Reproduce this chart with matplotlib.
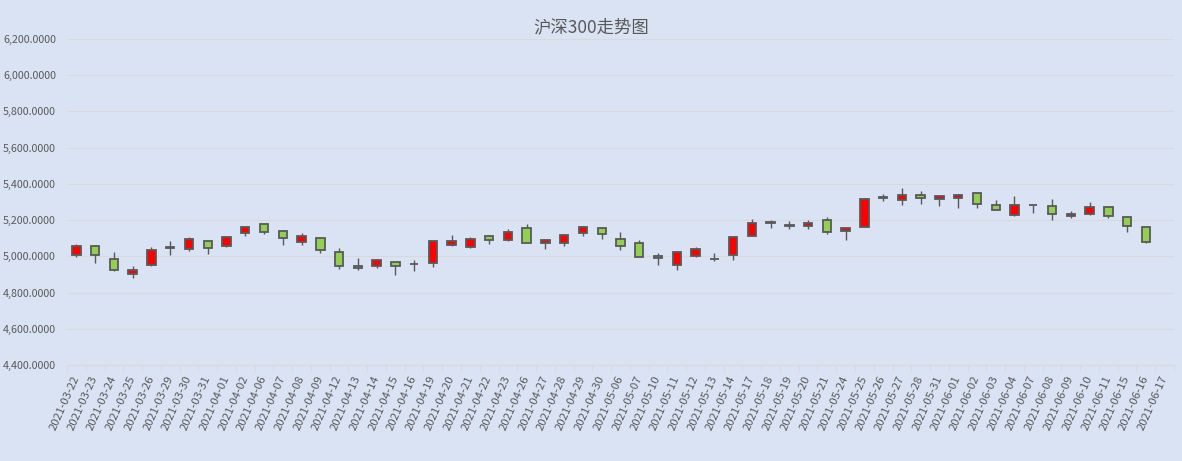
#!/usr/bin/env python3
"""CSI 300 daily candlestick chart, 2021-03-22 .. 2021-06-17."""

import matplotlib

matplotlib.use("Agg")
import matplotlib.pyplot as plt
import numpy as np
from matplotlib.ticker import FuncFormatter, MultipleLocator

plt.rcParams["font.family"] = ["Noto Sans CJK SC", "DejaVu Sans"]

TITLE = "沪深300走势图"

dates = [
    "2021-03-22", "2021-03-23", "2021-03-24", "2021-03-25", "2021-03-26",
    "2021-03-29", "2021-03-30", "2021-03-31", "2021-04-01", "2021-04-02",
    "2021-04-06", "2021-04-07", "2021-04-08", "2021-04-09", "2021-04-12",
    "2021-04-13", "2021-04-14", "2021-04-15", "2021-04-16", "2021-04-19",
    "2021-04-20", "2021-04-21", "2021-04-22", "2021-04-23", "2021-04-26",
    "2021-04-27", "2021-04-28", "2021-04-29", "2021-04-30", "2021-05-06",
    "2021-05-07", "2021-05-10", "2021-05-11", "2021-05-12", "2021-05-13",
    "2021-05-14", "2021-05-17", "2021-05-18", "2021-05-19", "2021-05-20",
    "2021-05-21", "2021-05-24", "2021-05-25", "2021-05-26", "2021-05-27",
    "2021-05-28", "2021-05-31", "2021-06-01", "2021-06-02", "2021-06-03",
    "2021-06-04", "2021-06-07", "2021-06-08", "2021-06-09", "2021-06-10",
    "2021-06-11", "2021-06-15", "2021-06-16", "2021-06-17",
]

opens = [
    5005, 5057, 4985, 4902, 4950, 5046, 5038, 5084, 5055, 5128,
    5178, 5139, 5079, 5101, 5024, 4946, 4945, 4968, 4958, 4963,
    5060, 5051, 5112, 5090, 5156, 5073, 5073, 5128, 5156, 5095,
    5073, 5002, 4952, 5002, 4986, 5007, 5112, 5186, 5170, 5167,
    5200, 5139, 5161, 5324, 5311, 5340, 5316, 5323, 5351, 5285,
    5228, 5283, 5279, 5224, 5235, 5274, 5218, 5163, np.nan,
]
highs = [
    5068, 5062, 5025, 4946, 5051, 5084, 5106, 5086, 5114, 5169,
    5179, 5140, 5128, 5102, 5046, 4991, 4987, 4969, 4981, 5085,
    5119, 5106, 5117, 5150, 5180, 5095, 5118, 5169, 5163, 5134,
    5088, 5018, 5031, 5053, 5018, 5114, 5207, 5200, 5195, 5200,
    5218, 5157, 5321, 5343, 5377, 5362, 5335, 5345, 5352, 5312,
    5334, 5284, 5318, 5251, 5301, 5275, 5224, 5164, np.nan,
]
lows = [
    4996, 4963, 4919, 4880, 4944, 5007, 5029, 5013, 5053, 5115,
    5123, 5060, 5060, 5016, 4930, 4923, 4937, 4895, 4919, 4941,
    5055, 5044, 5068, 5083, 5072, 5040, 5057, 5110, 5095, 5035,
    4995, 4952, 4925, 4994, 4972, 4980, 5111, 5154, 5149, 5150,
    5123, 5090, 5160, 5305, 5283, 5290, 5277, 5266, 5266, 5256,
    5222, 5240, 5202, 5213, 5229, 5213, 5136, 5073, np.nan,
]
closes = [
    5057, 5005, 4924, 4926, 5035, 5049, 5095, 5044, 5106, 5161,
    5137, 5099, 5112, 5033, 4946, 4934, 4980, 4946, 4960, 5084,
    5084, 5095, 5090, 5134, 5073, 5090, 5117, 5161, 5123, 5057,
    4996, 4991, 5024, 5040, 4988, 5106, 5184, 5188, 5172, 5185,
    5134, 5156, 5316, 5326, 5339, 5321, 5334, 5340, 5288, 5258,
    5285, 5282, 5235, 5235, 5274, 5222, 5167, 5079, np.nan,
]

UP_COLOR = "#ff0000"
DOWN_COLOR = "#92d050"
EDGE = "#595959"
TEXT = "#595959"
GRID = "#d9d9d9"
BG = "#dae3f3"


def main() -> None:
    o = np.asarray(opens, dtype=float)
    h = np.asarray(highs, dtype=float)
    l = np.asarray(lows, dtype=float)
    c = np.asarray(closes, dtype=float)
    x = np.arange(len(dates))
    ok = ~np.isnan(o)

    fig = plt.figure(figsize=(11.82, 4.61), dpi=100, facecolor=BG)
    ax = fig.add_axes([0.0567, 0.2082, 0.9365, 0.7072])
    ax.set_facecolor(BG)

    # wicks behind the bodies
    ax.vlines(x[ok], l[ok], h[ok], color=EDGE, linewidth=1.0, zorder=2)
    up = c >= o
    colors = np.where(up, UP_COLOR, DOWN_COLOR)
    bottoms = np.minimum(o, c)
    heights = np.abs(c - o)
    ax.bar(x[ok], heights[ok], bottom=bottoms[ok], width=0.45,
           color=colors[ok], edgecolor=EDGE, linewidth=1.3, zorder=3)

    ax.set_xlim(-0.5, len(dates) - 0.5)
    ax.set_ylim(4400, 6200)
    ax.yaxis.set_major_locator(MultipleLocator(200))
    ax.yaxis.set_major_formatter(FuncFormatter(lambda v, _: f"{v:,.4f}"))
    ax.grid(axis="y", color=GRID, linewidth=0.8, zorder=0)
    ax.set_axisbelow(True)

    for side in ["top", "right", "left"]:
        ax.spines[side].set_visible(False)
    ax.spines["bottom"].set_color(GRID)
    ax.spines["bottom"].set_linewidth(0.8)

    ax.set_xticks(x)
    ax.set_xticklabels(dates, rotation=66, ha="right", va="center",
                       rotation_mode="anchor", fontsize=8.2, color=TEXT)
    ax.set_xticks(np.arange(-0.5, len(dates)), minor=True)
    ax.tick_params(axis="x", which="major", length=0, pad=8)
    ax.tick_params(axis="x", which="minor", length=4, color=GRID, width=0.8)
    ax.tick_params(axis="y", length=0, pad=8, labelsize=7.7, labelcolor=TEXT)

    fig.text(0.5, 0.94, TITLE, ha="center", va="center", fontsize=12.5, color=TEXT)

    fig.savefig("out.png", dpi=100, facecolor=BG)
    plt.close(fig)


if __name__ == "__main__":
    main()
